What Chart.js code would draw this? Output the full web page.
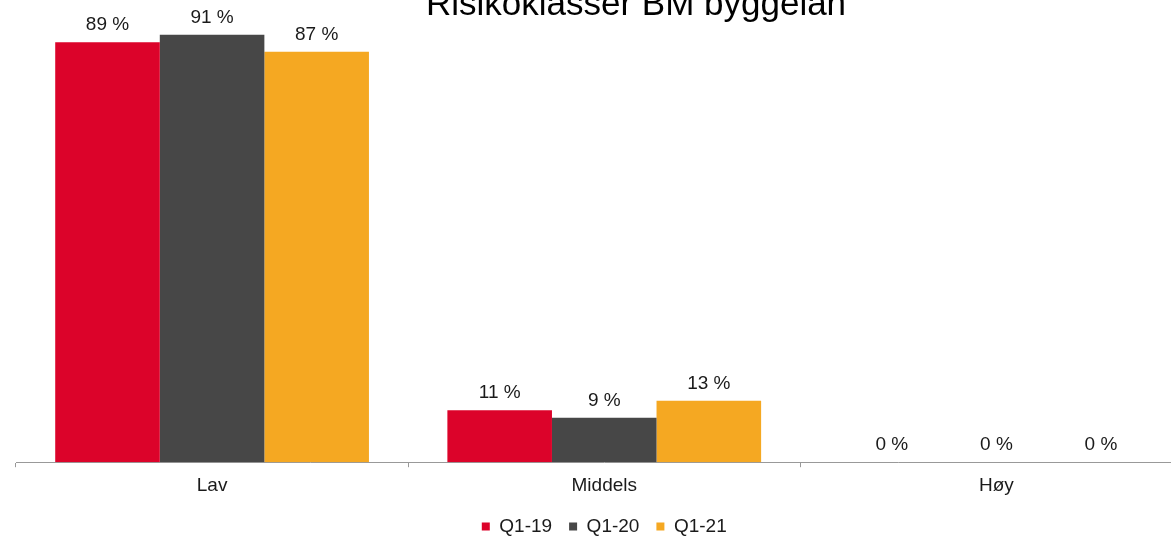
<!DOCTYPE html>
<html>
<head>
<meta charset="utf-8">
<script src="https://cdn.jsdelivr.net/npm/chart.js@4"></script>
<style>
  html, body { margin: 0; padding: 0; background: #fff; overflow: hidden; width: 1171px; height: 536px; }
  #wrap { position: absolute; left: 0; top: -16px; }
</style>
</head>
<body>
<div id="wrap"><canvas id="myChart" width="1256" height="562"></canvas></div>
<script>
const categories = ['Lav', 'Middels', 'Høy'];
const seriesNames = ['Q1-19', 'Q1-20', 'Q1-21'];
const q119 = [89, 11, 0];
const q120 = [90.6, 9.4, 0];
const q121 = [87, 13, 0];
const seriesColors = ['#dc032a', '#474747', '#f5a822'];
const titleText = 'Risikoklasser BM byggelån';

const fontFamily = "'Liberation Sans', Arial, sans-serif";
const textColor = '#1a1a1a';

// writes "89 %" etc above each bar
const barLabels = {
    id: 'barLabels',
    afterDatasetsDraw(chart) {
        const ctx = chart.ctx;
        ctx.save();
        ctx.font = '19px ' + fontFamily;
        ctx.fillStyle = textColor;
        ctx.textAlign = 'center';
        ctx.textBaseline = 'alphabetic';
        chart.data.datasets.forEach((ds, i) => {
            chart.getDatasetMeta(i).data.forEach((bar, j) => {
                ctx.fillText(Math.round(ds.data[j]) + ' %', bar.x, bar.y - 12);
            });
        });
        ctx.restore();
    }
};

function myLoadFunction() {
    const ctx = document.getElementById('myChart').getContext('2d');
    const seriesData = [q119, q120, q121];
    var myChartConfig = {
        type: 'bar',
        data: {
            labels: categories,
            datasets: seriesNames.map((name, i) => ({
                label: name,
                data: seriesData[i],
                backgroundColor: seriesColors[i],
                borderWidth: 0,
                categoryPercentage: 0.8,
                barPercentage: 1.0
            }))
        },
        options: {
            responsive: false,
            animation: false,
            devicePixelRatio: 1,
            layout: { padding: { left: 16, right: 0, top: 0, bottom: 0 } },
            scales: {
                x: {
                    grid: { display: true, drawOnChartArea: false, tickLength: 5, color: '#999', offset: true },
                    border: { display: true, color: '#999', width: 1 },
                    ticks: { color: textColor, padding: 7, font: { family: fontFamily, size: 19 } },
                    afterFit(axis) { axis.height -= 4; }
                },
                y: {
                    position: 'right',
                    min: 0,
                    max: 92.46,
                    grid: { display: false },
                    border: { display: false },
                    ticks: { display: false },
                    afterFit(axis) { axis.width = 63.5; }
                }
            },
            plugins: {
                title: {
                    display: true,
                    text: titleText,
                    color: '#000',
                    font: { family: fontFamily, size: 35, weight: 'normal' },
                    padding: { top: 0, bottom: 0 }
                },
                legend: {
                    position: 'bottom',
                    fullSize: false,
                    labels: {
                        color: textColor,
                        font: { family: fontFamily, size: 19 },
                        boxWidth: 8,
                        boxHeight: 8,
                        padding: 17
                    }
                },
                tooltip: { enabled: false }
            }
        },
        plugins: [barLabels]
    };
    const myChart = new Chart(ctx, myChartConfig);
}

document.addEventListener('DOMContentLoaded', myLoadFunction);
</script>
</body>
</html>
